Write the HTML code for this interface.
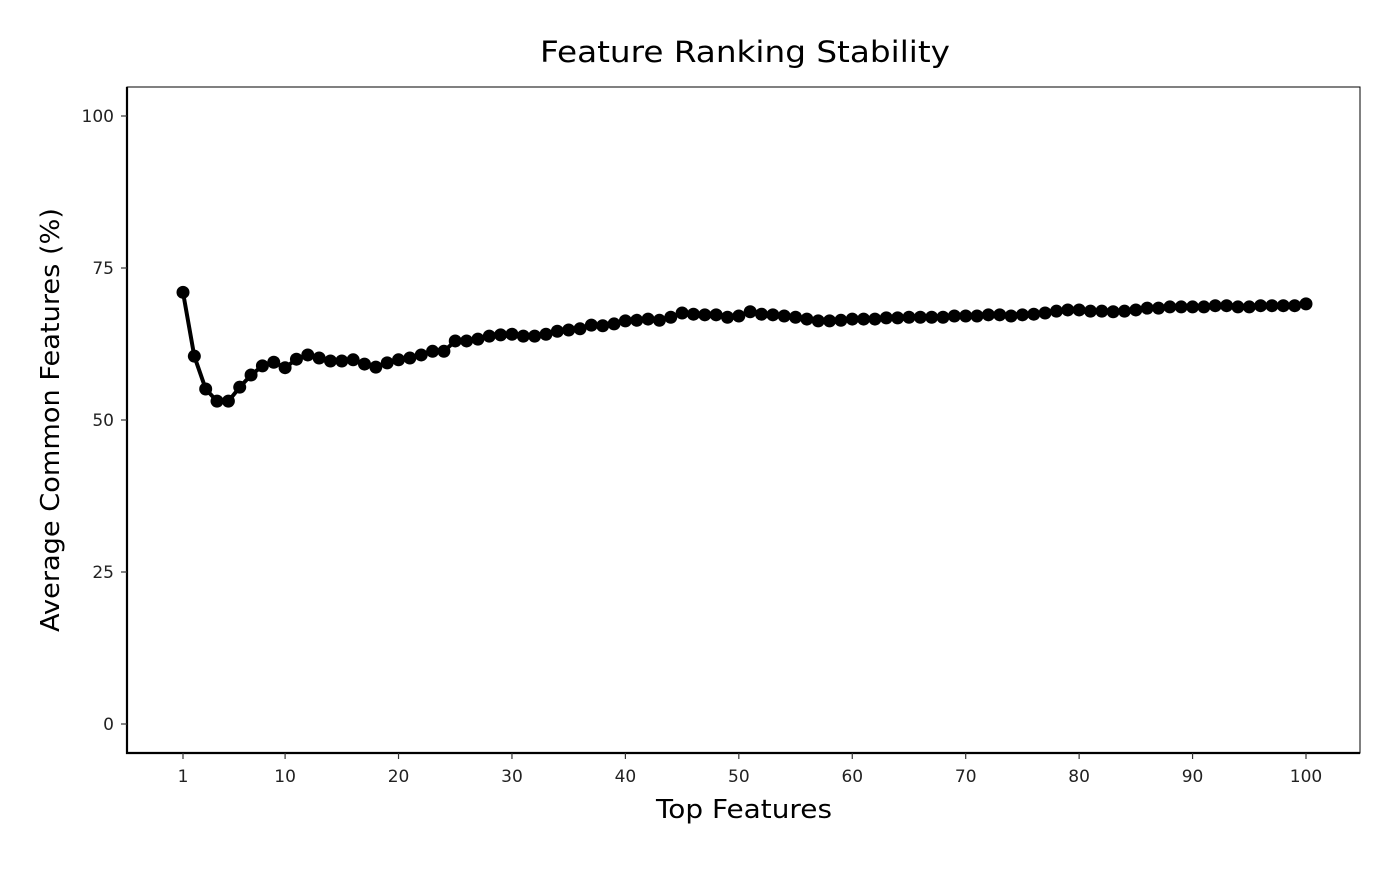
<!DOCTYPE html>
<html><head><meta charset="utf-8"><style>
html,body{margin:0;padding:0;background:#fff;}
svg text{font-family:"DejaVu Sans","Liberation Sans",sans-serif;}
</style></head><body>
<svg id="chart" width="1400" height="865" xmlns="http://www.w3.org/2000/svg"></svg>
<script>
const xValues = Array.from({length:100},(_, i)=>i+1);
const yValues = [71.0,60.5,55.1,53.1,53.1,55.4,57.4,58.9,59.5,58.6,
60.0,60.7,60.2,59.7,59.7,59.9,59.2,58.7,59.4,59.9,
60.2,60.7,61.3,61.3,63.0,63.0,63.3,63.8,64.0,64.1,
63.8,63.8,64.1,64.6,64.8,65.0,65.6,65.5,65.8,66.3,
66.4,66.6,66.4,66.9,67.6,67.4,67.3,67.3,66.9,67.1,
67.8,67.4,67.3,67.1,66.9,66.6,66.3,66.3,66.4,66.6,
66.6,66.6,66.8,66.8,66.9,66.9,66.9,66.9,67.1,67.1,
67.1,67.3,67.3,67.1,67.3,67.4,67.6,67.9,68.1,68.1,
67.9,67.9,67.8,67.9,68.1,68.4,68.4,68.6,68.6,68.6,
68.6,68.8,68.8,68.6,68.6,68.8,68.8,68.8,68.8,69.1];
const xTicks = [1,10,20,30,40,50,60,70,80,90,100];
const yTicks = [0,25,50,75,100];

const NS="http://www.w3.org/2000/svg";
const svg=document.getElementById('chart');
const L=127,R=1360,T=87,B=753;
const xs=v=>183+(v-1)*(1306-183)/99;
const ys=v=>724-v*(724-116)/100;
function mk(tag,attrs,parent){const e=document.createElementNS(NS,tag);for(const k in attrs)e.setAttribute(k,attrs[k]);(parent||svg).appendChild(e);return e;}

let t=mk('text',{x:745,y:62,'text-anchor':'middle','font-size':'29',fill:'#000',textLength:410,lengthAdjust:'spacingAndGlyphs'});
t.textContent='Feature Ranking Stability';



let panel=mk('rect',{x:L,y:T,width:R-L,height:B-T,fill:'none',stroke:'#000','stroke-width':1});


let ax=mk('path',{d:`M${L},${T} L${L},${B} L${R},${B}`,fill:'none',stroke:'#000','stroke-width':2.2});



xTicks.forEach(v=>{
  const x=xs(v);
  const tk=mk('line',{x1:x,x2:x,y1:B,y2:B+6,stroke:'#333','stroke-width':1.2});
  
  
  const lb=mk('text',{x:x,y:782,'text-anchor':'middle','font-size':'17',fill:'#222'});
  lb.textContent=v;
  
  
});
yTicks.forEach(v=>{
  const y=ys(v);
  const tk=mk('line',{x1:L-6,x2:L,y1:y,y2:y,stroke:'#333','stroke-width':1.2});
  
  
  const lb=mk('text',{x:L-13,y:y+6,'text-anchor':'end','font-size':'17',fill:'#222'});
  lb.textContent=v;
  
  
});

let xt=mk('text',{x:744,y:818,'text-anchor':'middle','font-size':'26',fill:'#000',textLength:176,lengthAdjust:'spacingAndGlyphs'});
xt.textContent='Top Features';


let yt=mk('text',{x:0,y:0,'text-anchor':'middle','font-size':'26',fill:'#000',textLength:424,lengthAdjust:'spacingAndGlyphs',transform:'translate(59,420) rotate(-90)'});
yt.textContent='Average Common Features (%)';



const d=xValues.map((v,i)=>(i?'L':'M')+xs(v).toFixed(1)+','+ys(yValues[i]).toFixed(1)).join(' ');
let ln=mk('path',{d:d,fill:'none',stroke:'#000','stroke-width':4,'stroke-linejoin':'round'});


xValues.forEach((v,i)=>{
  const c=mk('circle',{cx:xs(v),cy:ys(yValues[i]),r:6.5,fill:'#000'});
  
  
});
</script>
</body></html>
